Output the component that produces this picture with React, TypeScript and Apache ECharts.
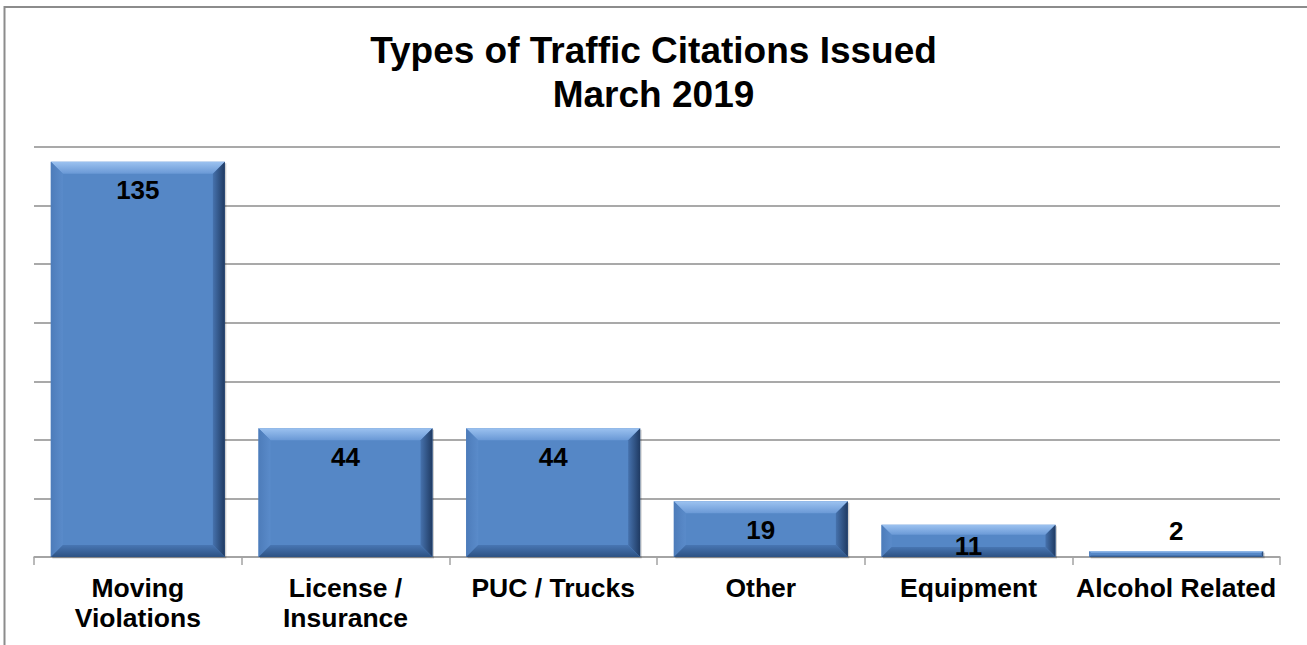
import React, { useEffect, useRef } from "react";
import * as echarts from "echarts";

const titleLines = ["Types of Traffic Citations Issued", "March 2019"];
const categories = [
  "Moving\nViolations",
  "License /\nInsurance",
  "PUC / Trucks",
  "Other",
  "Equipment",
  "Alcohol Related",
];
const citations = [135, 44, 44, 19, 11, 2];
const yMin = 0;
const yMax = 140;
const yInterval = 20;

const FONT = '"Liberation Sans", Arial, Helvetica, sans-serif';

export default function App() {
  const ref = useRef<HTMLDivElement>(null);

  useEffect(() => {
    document.body.style.margin = "0";
    if (!ref.current) return;
    const chart = echarts.init(ref.current, undefined, { renderer: "svg" });

    const renderItem = (params: any, api: any) => {
      const idx = api.value(0);
      const v = api.value(1);
      const top = api.coord([idx, v]);
      const base = api.coord([idx, 0]);
      const band = api.size([1, 0])[0];
      const w = band * 0.838;
      const x0 = top[0] - w / 2;
      const x1 = top[0] + w / 2;
      const y0 = top[1];
      const y1 = base[1];
      const h = y1 - y0;
      const b = Math.min(12, h / 3.2);

      const children: any[] = [
        {
          type: "rect",
          shape: { x: x0 + 1.5, y: y0 + 1.5, width: w, height: h },
          style: { fill: "rgba(0,0,0,0.18)" },
        },
        {
          type: "rect",
          shape: { x: x0, y: y0, width: w, height: h },
          style: { fill: "#5587c6" },
        },
        {
          type: "polygon",
          shape: { points: [[x0, y0], [x1, y0], [x1 - b, y0 + b], [x0 + b, y0 + b]] },
          style: {
            fill: new echarts.graphic.LinearGradient(0, 0, 0, 1, [
              { offset: 0, color: "#9cc2f0" },
              { offset: 1, color: "#6a99d6" },
            ]),
          },
        },
        {
          type: "polygon",
          shape: { points: [[x0, y0], [x0 + b, y0 + b], [x0 + b, y1 - b], [x0, y1]] },
          style: {
            fill: new echarts.graphic.LinearGradient(0, 0, 1, 0, [
              { offset: 0, color: "#4d7cba" },
              { offset: 1, color: "#5a8bca" },
            ]),
          },
        },
        {
          type: "polygon",
          shape: { points: [[x1, y0], [x1, y1], [x1 - b, y1 - b], [x1 - b, y0 + b]] },
          style: {
            fill: new echarts.graphic.LinearGradient(0, 0, 1, 0, [
              { offset: 0, color: "#4672ad" },
              { offset: 1, color: "#1f3a62" },
            ]),
          },
        },
        {
          type: "polygon",
          shape: { points: [[x0, y1], [x1, y1], [x1 - b, y1 - b], [x0 + b, y1 - b]] },
          style: {
            fill: new echarts.graphic.LinearGradient(0, 0, 0, 1, [
              { offset: 0, color: "#4876b3" },
              { offset: 1, color: "#2d5283" },
            ]),
          },
        },
      ];

      let ly: number;
      if (h > 20) ly = Math.min(y0 + 28.5, y1 - 11.5);
      else ly = y0 - 20.5;
      children.push({
        type: "text",
        style: {
          text: String(v),
          x: top[0],
          y: ly,
          align: "center",
          verticalAlign: "middle",
          font: `bold 26px ${FONT}`,
          fill: "#000",
        },
      });
      return { type: "group", children };
    };

    chart.setOption({
      animation: false,
      backgroundColor: "#ffffff",
      title: {
        text: titleLines.join("\n"),
        left: "center",
        top: 28,
        padding: 0,
        textStyle: {
          fontFamily: FONT,
          fontWeight: "bold",
          fontSize: 37,
          lineHeight: 44,
          color: "#000",
        },
      },
      graphic: [
        {
          type: "rect",
          silent: true,
          z: -1,
          shape: { x: 4.5, y: 7, width: 1320, height: 700 },
          style: { fill: "none", stroke: "#8c8c8c", lineWidth: 2 },
        },
      ],
      grid: { left: 34, right: 27, top: 147, bottom: 88, containLabel: false },
      xAxis: {
        type: "category",
        data: categories,
        boundaryGap: true,
        axisLine: { show: true, lineStyle: { color: "#a3a3a3", width: 1.5 } },
        axisTick: { show: true, length: 8, lineStyle: { color: "#a3a3a3", width: 1.5 } },
        axisLabel: {
          interval: 0,
          margin: 16,
          fontFamily: FONT,
          fontWeight: "bold",
          fontSize: 26.5,
          lineHeight: 30,
          color: "#000",
        },
      },
      yAxis: {
        type: "value",
        min: yMin,
        max: yMax,
        interval: yInterval,
        axisLine: { show: false },
        axisTick: { show: false },
        axisLabel: { show: false },
        splitLine: { show: true, lineStyle: { color: "#8c8c8c", width: 1.6 } },
      },
      series: [
        {
          type: "custom",
          name: "Citations",
          data: citations.map((v, i) => [i, v]),
          encode: { x: 0, y: 1 },
          renderItem,
        },
      ],
    });

    return () => chart.dispose();
  }, []);

  return <div ref={ref} style={{ width: 1307, height: 645 }} />;
}
